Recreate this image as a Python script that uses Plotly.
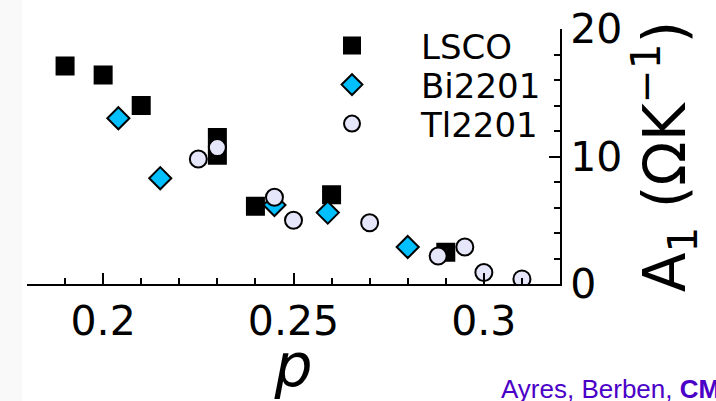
import plotly.graph_objects as go

# Data
p_lsco = [0.19, 0.20, 0.21, 0.23, 0.23, 0.24, 0.26, 0.29]
a_lsco = [17.1, 16.4, 14.0, 11.5, 10.1, 6.1, 7.0, 2.5]
p_bi = [0.204, 0.215, 0.245, 0.259, 0.28]
a_bi = [13.0, 8.3, 6.2, 5.6, 2.9]
p_tl = [0.225, 0.23, 0.245, 0.25, 0.27, 0.288, 0.295, 0.30, 0.31]
a_tl = [9.8, 10.7, 6.8, 5.0, 4.8, 2.2, 2.9, 0.9, 0.4]

x_ticks = [0.2, 0.25, 0.3]
x_tick_labels = ["0.2", "0.25", "0.3"]
y_ticks = [0, 10, 20]
y_tick_labels = ["0", "10", "20"]

FONT = "DejaVu Sans"
W, H = 716, 401
L, R, T, B = 27, 156, 29, 117
PW, PH = W - L - R, H - T - B

def px_x(px):
    return (px - L) / PW

def px_y(py):
    return (H - B - py) / PH

fig = go.Figure()
fig.add_trace(go.Scatter(
    x=p_lsco, y=a_lsco, mode="markers", name="LSCO", legend="legend",
    marker=dict(symbol="square", size=17, color="black",
                line=dict(color="black", width=2)),
))
fig.add_trace(go.Scatter(
    x=p_bi, y=a_bi, mode="markers", name="Bi2201", legend="legend2",
    marker=dict(symbol="diamond", size=17, color="#00BFFF",
                line=dict(color="black", width=2)),
))
fig.add_trace(go.Scatter(
    x=p_tl, y=a_tl, mode="markers", name="Tl2201", legend="legend3",
    marker=dict(symbol="circle", size=17, color="#E6E6FA",
                line=dict(color="black", width=2)),
))

leg_common = dict(font=dict(family=FONT, size=34, color="black"),
                  bgcolor="rgba(0,0,0,0)", xanchor="left", yanchor="middle",
                  itemwidth=128, borderwidth=0, visible=True)
lx = px_x(283)
fig.update_layout(
    showlegend=True,
    legend=dict(x=lx, y=px_y(46), **leg_common),
    legend2=dict(x=lx, y=px_y(85), **leg_common),
    legend3=dict(x=lx, y=px_y(124), **leg_common),
)

fig.update_layout(
    width=W, height=H,
    margin=dict(l=L, r=R, t=T, b=B, pad=0, autoexpand=False),
    paper_bgcolor="white", plot_bgcolor="white",
    font=dict(family=FONT, color="black"),
    xaxis=dict(
        range=[0.18, 0.32], showgrid=False, zeroline=False, automargin=False,
        showline=True, linecolor="black", linewidth=2,
        ticks="inside", ticklen=11, tickwidth=2, tickcolor="black",
        tickvals=x_ticks, ticktext=x_tick_labels,
        tickfont=dict(family=FONT, size=41, color="black"),
        minor=dict(dtick=0.01, tick0=0.2, ticks="inside", ticklen=6,
                   tickwidth=2, tickcolor="black", showgrid=False),
        title=dict(text="<i>p</i>", font=dict(family=FONT, size=60, color="black"),
                   standoff=16),
    ),
    yaxis=dict(
        range=[0, 20], side="right", showgrid=False, zeroline=False,
        automargin=False,
        showline=True, linecolor="black", linewidth=2,
        ticks="inside", ticklen=11, tickwidth=2, tickcolor="black",
        tickvals=y_ticks, ticktext=y_tick_labels,
        tickfont=dict(family=FONT, size=41, color="black"),
        minor=dict(dtick=2, tick0=0, ticks="inside", ticklen=6,
                   tickwidth=2, tickcolor="black", showgrid=False),
        title=dict(text="A<sub>1</sub> (ΩK<sup>−1</sup>)",
                   font=dict(family=FONT, size=58, color="black"),
                   standoff=8),
    ),
    shapes=[dict(type="rect", xref="paper", yref="paper",
                 x0=px_x(0), x1=px_x(22), y0=px_y(H), y1=px_y(0),
                 fillcolor="#f9f9f9", line=dict(width=0), layer="below")],
    annotations=[dict(
        text="Ayres, Berben, <b>CM</b>", xref="paper", yref="paper",
        x=px_x(499), y=px_y(389), xanchor="left", yanchor="middle",
        showarrow=False, font=dict(family="Liberation Sans, Arial", size=26,
                                   color="#4b00c8"),
    )],
)

fig.write_html("out.html")
